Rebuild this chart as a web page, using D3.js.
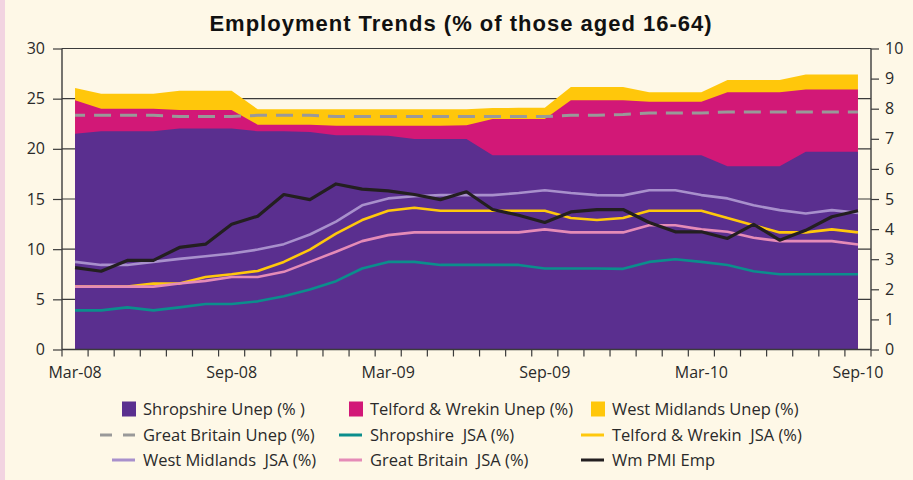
<!DOCTYPE html>
<html><head><meta charset="utf-8">
<script src="https://cdn.jsdelivr.net/npm/d3@7"></script>
<style>body{margin:0;background:#FEF8E7;} svg{display:block;}</style>
</head><body>
<svg id="c" width="913" height="480"></svg>
<script>
const months = ["Mar-08","Apr-08","May-08","Jun-08","Jul-08","Aug-08","Sep-08","Oct-08","Nov-08","Dec-08",
  "Jan-09","Feb-09","Mar-09","Apr-09","May-09","Jun-09","Jul-09","Aug-09","Sep-09","Oct-09","Nov-09","Dec-09",
  "Jan-10","Feb-10","Mar-10","Apr-10","May-10","Jun-10","Jul-10","Aug-10","Sep-10"];
const xTickLabels = ["Mar-08","Sep-08","Mar-09","Sep-09","Mar-10","Sep-10"];
const leftTicks = [0,5,10,15,20,25,30];
const rightTicks = [0,1,2,3,4,5,6,7,8,9,10];

// values in % (right axis units)
const shropshireUnep = [7.17,7.25,7.25,7.25,7.34,7.34,7.34,7.25,7.25,7.23,7.12,7.12,7.10,6.99,6.99,6.99,6.45,6.45,6.45,6.45,6.45,6.45,6.45,6.45,6.45,6.09,6.09,6.09,6.57,6.57,6.57];
const telfordUnep = [8.28,8.00,8.00,8.00,7.96,7.96,7.96,7.47,7.47,7.47,7.43,7.43,7.43,7.43,7.43,7.45,7.66,7.66,7.66,8.28,8.28,8.28,8.23,8.23,8.23,8.55,8.55,8.55,8.64,8.64,8.64];
const wmUnep = [8.69,8.50,8.50,8.50,8.60,8.60,8.60,7.98,7.98,7.98,7.98,7.98,7.98,7.98,7.98,7.98,8.02,8.03,8.03,8.72,8.72,8.72,8.55,8.55,8.55,8.95,8.95,8.95,9.14,9.14,9.14];
const gbUnep = [7.78,7.78,7.78,7.78,7.74,7.74,7.74,7.78,7.78,7.78,7.74,7.74,7.74,7.74,7.74,7.74,7.74,7.74,7.74,7.78,7.78,7.81,7.86,7.86,7.86,7.89,7.89,7.89,7.89,7.89,7.89];
const shropshireJSA = [1.30,1.30,1.40,1.30,1.40,1.51,1.51,1.60,1.77,1.99,2.27,2.69,2.91,2.91,2.81,2.81,2.81,2.81,2.69,2.69,2.69,2.68,2.91,3.00,2.91,2.81,2.60,2.50,2.50,2.50,2.50];
const telfordJSA = [2.09,2.09,2.09,2.19,2.19,2.41,2.50,2.61,2.91,3.32,3.85,4.30,4.61,4.71,4.61,4.61,4.61,4.61,4.61,4.37,4.30,4.37,4.61,4.61,4.61,4.37,4.13,3.89,3.89,3.99,3.89];
const wmJSA = [2.91,2.81,2.81,2.91,3.01,3.10,3.19,3.32,3.50,3.82,4.25,4.79,5.02,5.09,5.13,5.13,5.13,5.20,5.29,5.20,5.13,5.12,5.29,5.29,5.13,5.02,4.79,4.63,4.52,4.63,4.54];
const gbJSA = [2.09,2.09,2.09,2.09,2.19,2.28,2.41,2.41,2.58,2.91,3.25,3.60,3.80,3.89,3.89,3.89,3.89,3.89,3.99,3.89,3.89,3.89,4.13,4.13,3.99,3.91,3.71,3.60,3.60,3.60,3.49];
const wmPMIEmp = [2.72,2.60,2.96,2.96,3.39,3.50,4.16,4.43,5.15,4.98,5.50,5.33,5.27,5.15,4.98,5.24,4.65,4.46,4.22,4.57,4.65,4.65,4.22,3.91,3.91,3.69,4.16,3.63,3.96,4.41,4.61];

const seriesNames = ["Shropshire Unep (% )","Telford & Wrekin Unep (%)","West Midlands Unep (%)",
  "Great Britain Unep (%)","Shropshire  JSA (%)","Telford & Wrekin  JSA (%)",
  "West Midlands  JSA (%)","Great Britain  JSA (%)","Wm PMI Emp"];
const seriesValues = [shropshireUnep, telfordUnep, wmUnep, gbUnep, shropshireJSA, telfordJSA, wmJSA, gbJSA, wmPMIEmp];
const seriesColors = ["#5A2F8F","#D21877","#FFC70B","#999999","#0B8E8C","#FFC80C","#A890CC","#E58BB7","#231F20"];
const seriesKinds = ["area","area","area","dash","line","line","line","line","line"];

const svg = d3.select("#c");
const W = 913, H = 480;
const L = 62, R = 871, T = 48.5, B = 349.5;
const font = "'Open Sans', sans-serif";
const axisCol = "#3b3b3b";

svg.append("rect").attr("width", W).attr("height", H).attr("fill", "#FEF8E7");
svg.append("rect").attr("width", 5).attr("height", H).attr("fill", "#F2D4E1");

const x = d3.scaleBand().domain(months).range([L, R]).paddingInner(0).paddingOuter(0);
const cx = m => x(m) + x.bandwidth() / 2;
const yL = d3.scaleLinear().domain([0, 30]).range([B, T]);
const yR = d3.scaleLinear().domain([0, 10]).range([B, T]);

// title
svg.append("text").attr("x", 461).attr("y", 31).attr("text-anchor", "middle")
  .attr("font-family", "'Liberation Sans', Arial, sans-serif").attr("font-weight", "bold")
  .attr("font-size", 22).attr("letter-spacing", 1).attr("fill", "#111")
  .text("Employment Trends (% of those aged 16-64)");

// gridlines
svg.append("g").selectAll("line").data(leftTicks.filter(d => d > 0)).join("line")
  .attr("x1", L).attr("x2", R).attr("y1", d => yL(d)).attr("y2", d => yL(d))
  .attr("stroke", axisCol).attr("stroke-width", 1.2);

// areas drawn back to front
const area = d3.area().x((d, i) => cx(months[i])).y0(yR(0)).y1(d => yR(d));
const line = d3.line().x((d, i) => cx(months[i])).y(d => yR(d));
[2, 1, 0].forEach(k => {
  svg.append("path").datum(seriesValues[k]).attr("d", area).attr("fill", seriesColors[k]);
});
// lines
for (let k = 3; k < seriesValues.length; k++) {
  const p = svg.append("path").datum(seriesValues[k]).attr("d", line).attr("fill", "none")
    .attr("stroke", seriesColors[k]).attr("stroke-width", k === 8 ? 3.2 : 2.6)
    .attr("stroke-linejoin", "round");
  if (seriesKinds[k] === "dash") p.attr("stroke-dasharray", "17,9").attr("stroke-dashoffset", 7).attr("stroke-width", 3);
}

// axes
const axL = svg.append("g").attr("transform", `translate(${L},0)`)
  .call(d3.axisLeft(yL).tickValues(leftTicks).tickSize(9).tickPadding(8));
const axR = svg.append("g").attr("transform", `translate(${R},0)`)
  .call(d3.axisRight(yR).tickValues(rightTicks).tickSize(8).tickPadding(6));
const axB = svg.append("g").attr("transform", `translate(0,${B})`)
  .call(d3.axisBottom(x).tickValues(xTickLabels).tickSize(0).tickPadding(17));
// category boundary ticks
const bounds = months.map(m => x(m)).concat([R]);
svg.append("g").selectAll("line").data(bounds).join("line")
  .attr("x1", d => d).attr("x2", d => d).attr("y1", B).attr("y2", B + 7)
  .attr("stroke", axisCol).attr("stroke-width", 1.2);

[axL, axR, axB].forEach(a => {
  a.select(".domain").attr("stroke", axisCol).attr("stroke-width", 1.4);
  a.selectAll(".tick line").attr("stroke", axisCol).attr("stroke-width", 1.2);
  a.selectAll("text").attr("font-family", font).attr("font-size", 16).attr("fill", "#2a2a2a");
});
axB.select(".domain").attr("d", `M${L},0H${R}`);
axL.select(".domain").attr("d", `M0,${T}V${B}`);
axR.select(".domain").attr("d", `M0,${T}V${B}`);

// legend
const legCols = [143, 370, 612];
const legRows = [409, 435, 460];
const lg = svg.append("g");
seriesNames.forEach((name, i) => {
  const tx = legCols[i % 3], ty = legRows[Math.floor(i / 3)];
  const kind = seriesKinds[i];
  if (kind === "area") {
    lg.append("rect").attr("x", tx - 21).attr("y", ty - 7.5).attr("width", 14).attr("height", 15)
      .attr("fill", seriesColors[i]);
  } else if (kind === "dash") {
    lg.append("line").attr("x1", tx - 43).attr("x2", tx - 8).attr("y1", ty).attr("y2", ty)
      .attr("stroke", seriesColors[i]).attr("stroke-width", 3).attr("stroke-dasharray", "12,11");
  } else {
    lg.append("line").attr("x1", tx - 31).attr("x2", tx - 8).attr("y1", ty).attr("y2", ty)
      .attr("stroke", seriesColors[i]).attr("stroke-width", 3);
  }
  lg.append("text").attr("x", tx).attr("y", ty).attr("dy", "0.35em")
    .attr("font-family", font).attr("font-size", 16.5).attr("fill", "#2a2a2a")
    .attr("xml:space", "preserve").style("white-space", "pre").text(name);
});
</script>
</body></html>
